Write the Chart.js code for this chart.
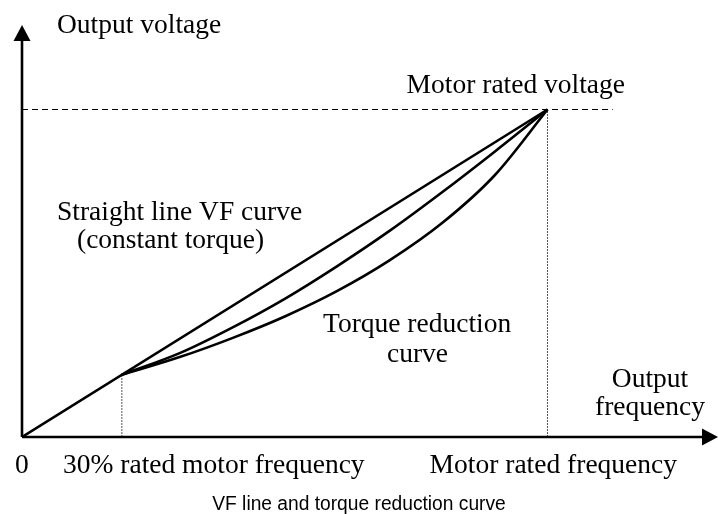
<!DOCTYPE html>
<html>
<head>
<meta charset="utf-8">
<script src="https://cdn.jsdelivr.net/npm/chart.js@4"></script>
<style>
  html, body { margin: 0; padding: 0; background: #fff; }
  #wrap { width: 718px; height: 514px; position: relative; }
</style>
</head>
<body>
<div id="wrap"><canvas id="c" width="718" height="514"></canvas></div>
<script>
// Output frequency, % of motor rated frequency
const kneeFreq = 19;
const ratedFreq = 100;
const curveFreq = [19, 30, 40, 50, 60, 70, 80, 90, 100];
// Output voltage, % of motor rated voltage
const straightVolt = [0, 100];
const reducedVoltA = [19, 25.6, 33.4, 42.2, 52.2, 63.0, 74.8, 87.2, 100];
const reducedVoltB = [19, 24.4, 30.2, 36.8, 44.6, 54.0, 65.4, 80.0, 100];
const ratedVoltEnd = 112.4;

const serif = '"Liberation Serif", "DejaVu Serif", serif';
const sans = '"Liberation Sans", Arial, sans-serif';

const pts = (xs, ys) => xs.map((x, i) => ({ x, y: ys[i] }));

const solid = { borderColor: '#000', borderWidth: 2.6, pointRadius: 0, fill: false };

const datasets = [
  Object.assign({ data: pts([0, ratedFreq], straightVolt) }, solid),
  Object.assign({ data: pts(curveFreq, reducedVoltA), cubicInterpolationMode: 'monotone' }, solid),
  Object.assign({ data: pts(curveFreq, reducedVoltB), cubicInterpolationMode: 'monotone' }, solid),
  { data: pts([0, ratedVoltEnd], [100, 100]), borderColor: '#000', borderWidth: 1,
    borderDash: [6, 4], pointRadius: 0 },
  { data: pts([kneeFreq, kneeFreq], [0, kneeFreq]), borderColor: '#555', borderWidth: 1,
    borderDash: [2, 1], pointRadius: 0 },
  { data: pts([ratedFreq, ratedFreq], [0, 100]), borderColor: '#555', borderWidth: 1,
    borderDash: [2, 1], pointRadius: 0 }
];

// Axes with arrowheads, plus the diagram's text
const diagram = {
  id: 'diagram',
  afterDatasetsDraw(chart) {
    const { ctx, chartArea: a, scales: { x, y } } = chart;
    const x0 = x.getPixelForValue(0), y0 = y.getPixelForValue(0);
    ctx.save();
    ctx.strokeStyle = '#000';
    ctx.fillStyle = '#000';
    ctx.lineWidth = 2.6;
    ctx.beginPath();
    ctx.moveTo(x0, y0); ctx.lineTo(x0, a.top + 14);
    ctx.moveTo(x0, y0); ctx.lineTo(a.right - 12, y0);
    ctx.stroke();
    // up arrow
    ctx.beginPath();
    ctx.moveTo(x0, a.top); ctx.lineTo(x0 - 8.5, a.top + 16); ctx.lineTo(x0 + 8.5, a.top + 16);
    ctx.closePath(); ctx.fill();
    // right arrow
    ctx.beginPath();
    ctx.moveTo(a.right + 2, y0); ctx.lineTo(a.right - 14, y0 - 8.5); ctx.lineTo(a.right - 14, y0 + 8.5);
    ctx.closePath(); ctx.fill();

    const txt = (s, px, py, align, font, sx) => {
      ctx.save();
      ctx.font = font || ('27.5px ' + serif);
      ctx.textAlign = align;
      ctx.textBaseline = 'alphabetic';
      ctx.translate(px, py);
      ctx.scale(sx || 1, 1);
      ctx.fillText(s, 0, 0);
      ctx.restore();
    };
    txt('Output voltage', 57, 33, 'left');
    txt('Motor rated voltage', 625, 93, 'right');
    txt('Straight line VF curve', 57, 220, 'left');
    txt('(constant torque)', 77, 248, 'left');
    txt('Torque reduction', 323, 332, 'left');
    txt('curve', 387, 362, 'left');
    txt('Output', 650, 387, 'center');
    txt('frequency', 650, 415, 'center');
    txt('0', 15, 473, 'left');
    txt('30% rated motor frequency', 63, 473, 'left');
    txt('Motor rated frequency', 677, 473, 'right');
    txt('VF line and torque reduction curve', 359, 510, 'center', '20px ' + sans, 0.96);
    ctx.restore();
  }
};

new Chart(document.getElementById('c'), {
  type: 'line',
  data: { datasets },
  options: {
    responsive: false,
    animation: false,
    layout: { padding: { left: 22, top: 25, right: 2, bottom: 77 } },
    plugins: { legend: { display: false }, tooltip: { enabled: false } },
    scales: {
      x: { type: 'linear', min: 0, max: 132.06, display: false },
      y: { type: 'linear', min: 0, max: 125.8, display: false }
    }
  },
  plugins: [diagram]
});
</script>
</body>
</html>
